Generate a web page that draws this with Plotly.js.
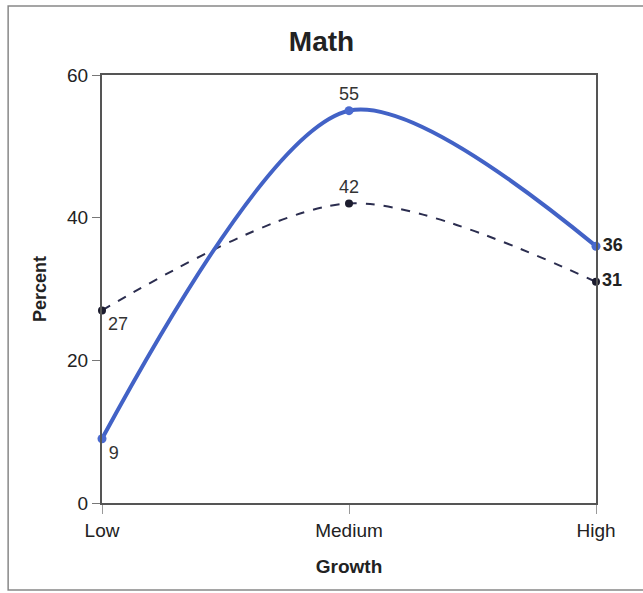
<!DOCTYPE html>
<html><head><meta charset="utf-8">
<script src="https://cdn.plot.ly/plotly-3.0.1.min.js"></script>
<style>html,body{margin:0;padding:0;background:#fff}#chart{width:643px;height:593px}</style>
</head><body><div id="chart"></div>
<script>
const categories = ["Low", "Medium", "High"];
const solidValues = [9, 55, 36];
const dashedValues = [27, 42, 31];
const yTicks = [0, 20, 40, 60];

const font = "Liberation Sans, Arial, sans-serif";
const traces = [
  {
    x: categories, y: dashedValues, type: "scatter", mode: "lines+markers+text",
    line: {color: "#2b2d4f", width: 2, dash: "dash", shape: "spline", smoothing: 0.85},
    marker: {color: "#1c1c2e", size: 8},
    text: dashedValues.map(String),
    textposition: ["bottom right", "top center", "middle right"],
    textfont: {family: font, size: 18, color: ["#333", "#333", "#222"], weight: ["normal", "normal", "bold"]},
    cliponaxis: false, hoverinfo: "skip"
  },
  {
    x: categories, y: solidValues, type: "scatter", mode: "lines+markers+text",
    line: {color: "#4262c6", width: 4, shape: "spline", smoothing: 0.85},
    marker: {color: "#4a6ad0", size: 9},
    text: solidValues.map(String),
    textposition: ["bottom right", "top center", "middle right"],
    textfont: {family: font, size: 18, color: ["#333", "#333", "#222"], weight: ["normal", "normal", "bold"]},
    cliponaxis: false, hoverinfo: "skip"
  }
];
const layout = {
  width: 643, height: 593,
  margin: {l: 102, r: 47, t: 75, b: 90},
  paper_bgcolor: "#fff", plot_bgcolor: "#fff",
  showlegend: false,
  title: {text: "<b>Math</b>", font: {family: font, size: 28, color: "#222"}, x: 0.5, xanchor: "center", y: 0.93, yanchor: "middle"},
  xaxis: {
    type: "category", range: [0, 2], showgrid: false, zeroline: false,
    showline: true, linecolor: "#555", linewidth: 2, mirror: true,
    ticks: "outside", ticklen: 9, tickcolor: "#999",
    tickfont: {family: font, size: 19, color: "#222"},
    title: {text: "<b>Growth</b>", font: {family: font, size: 19, color: "#222"}, standoff: 20}
  },
  yaxis: {
    range: [0, 60], tickvals: yTicks, showgrid: false, zeroline: false,
    showline: true, linecolor: "#555", linewidth: 2, mirror: true,
    ticks: "outside", ticklen: 8, tickcolor: "#777",
    tickfont: {family: font, size: 19, color: "#222"},
    title: {text: "<b>Percent</b>", font: {family: font, size: 18, color: "#222"}, standoff: 16}
  },
  shapes: [{
    type: "rect", xref: "paper", yref: "paper",
    x0: -0.19, x1: 1.2, y0: -0.203, y1: 1.161,
    line: {color: "#888", width: 1.5}, fillcolor: "rgba(0,0,0,0)", layer: "below"
  }]
};
Plotly.newPlot("chart", traces, layout, {displayModeBar: false, staticPlot: true});
</script></body></html>
